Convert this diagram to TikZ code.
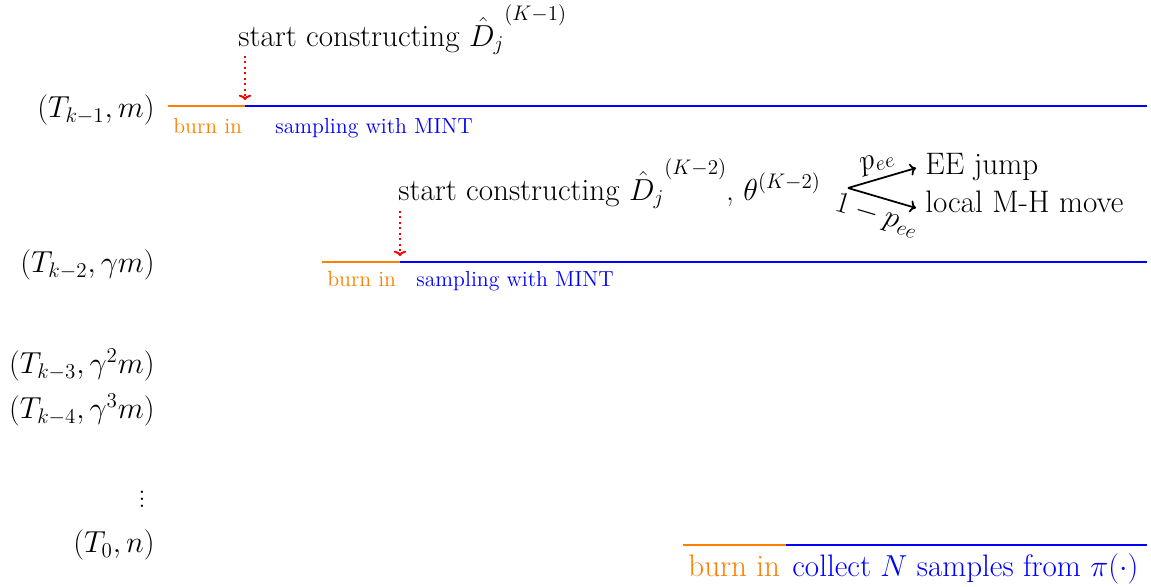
\documentclass[tikz,border=0pt]{standalone}
\usetikzlibrary{arrows.meta}
\newcommand{\hatsup}[1]{\hat{D}_j\raisebox{14.5pt}{\fontsize{18.5}{21}\selectfont$\scriptstyle(#1)$}}
\begin{document}
\begin{tikzpicture}[x=0.02cm,y=-0.02cm,
  main/.style={font=\fontsize{17.7}{21}\selectfont, inner sep=0pt},
  lab/.style={font=\fontsize{16.6}{20}\selectfont, inner sep=0pt},
  small/.style={font=\fontsize{12.4}{15}\selectfont, inner sep=0pt},
  burn/.style={draw=orange, line width=1.2pt},
  samp/.style={draw=blue, line width=1.2pt},
  startarrow/.style={red, dotted, line width=1.1pt, -{To[length=3pt,width=7pt]}},
  choice/.style={black, line width=1pt, -{To[length=3.5pt,width=7pt]}}]
\useasboundingbox (0,0) rectangle (1151,586);
% left labels
\node[lab, anchor=east] (l1) at (155,110) {$(T_{k-1},m)$};
\node[lab, anchor=east] (l2) at (155,265) {$(T_{k-2},\gamma m)$};
\node[lab, anchor=east] (l3) at (155,365) {$(T_{k-3},\gamma^2 m)$};
\node[lab, anchor=east] (l4) at (155,410) {$(T_{k-4},\gamma^3 m)$};
\node[lab] (ld) at (142,494) {$\vdots$};
\node[lab, anchor=east] (l0) at (155,545) {$(T_0,n)$};
% row 1
\coordinate (a1) at (168,106);
\coordinate (b1) at (245,106);
\coordinate (c1) at (1147,106);
\draw[burn] (a1) -- (b1);
\draw[samp] (b1) -- (c1);
\node[main, anchor=base west] (s1) at (238,46) {start constructing $\hatsup{K-1}$};
\coordinate (p1) at (245,56);
\draw[startarrow] (p1) -- (b1 |- 0,100);
\node[small, text=orange, anchor=base west] (bi1) at (173,133) {burn in};
\node[small, text=blue, anchor=base west] (sm1) at (275,133) {sampling with MINT};
% row 2
\coordinate (a2) at (322,262);
\coordinate (b2) at (400,262);
\coordinate (c2) at (1147,262);
\draw[burn] (a2) -- (b2);
\draw[samp] (b2) -- (c2);
\node[main, anchor=base west] (s2) at (398,200) {start constructing $\hatsup{K-2}$, $\theta^{(K-2)}$};
\coordinate (p2) at (400,211);
\draw[startarrow] (p2) -- (b2 |- 0,256);
\node[small, text=orange, anchor=base west] (bi2) at (327,286) {burn in};
\node[small, text=blue, anchor=base west] (sm2) at (416,286) {sampling with MINT};
% choice
\coordinate (sp) at (848,188);
\node[main, anchor=west] (ee) at (925,167) {EE jump};
\node[main, anchor=west] (mh) at (925,202) {local M-H move};
\coordinate (eeT) at (916,168);
\coordinate (mhT) at (916,208);
\draw[choice] (sp) -- node[main, above=3pt, sloped] {$p_{ee}$} (eeT);
\draw[choice] (sp) -- node[main, below=3pt, sloped] {$1-p_{ee}$} (mhT);
% bottom row
\coordinate (a0) at (683,545);
\coordinate (b0) at (786,545);
\coordinate (c0) at (1147,545);
\draw[burn] (a0) -- (b0);
\draw[samp] (b0) -- (c0);
\node[main, text=orange, anchor=base west] (bi0) at (688,576) {burn in};
\node[main, text=blue, anchor=base west] (col) at (792,576) {collect $N$ samples from $\pi(\cdot)$};
\end{tikzpicture}
\end{document}
